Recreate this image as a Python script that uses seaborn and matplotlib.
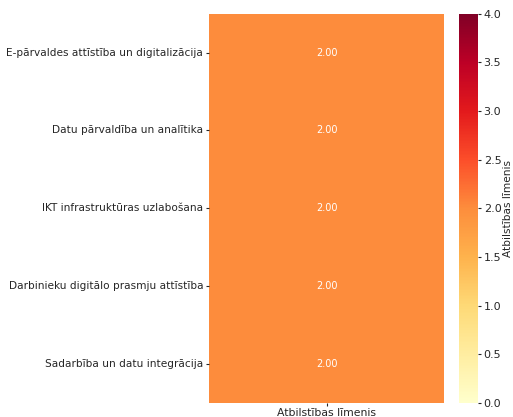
import matplotlib
matplotlib.use("Agg")
import matplotlib.pyplot as plt
import seaborn as sns
import pandas as pd

areas = [
    "E-pārvaldes attīstība un digitalizācija",
    "Datu pārvaldība un analītika",
    "IKT infrastruktūras uzlabošana",
    "Darbinieku digitālo prasmju attīstība",
    "Sadarbība un datu integrācija",
]
scores = [2.0, 2.0, 2.0, 2.0, 2.0]
column_label = "Atbilstības līmenis"

df = pd.DataFrame({column_label: scores}, index=areas)

plt.rcParams["font.family"] = ["DejaVu Sans"]
plt.rcParams["text.color"] = "#262626"
plt.rcParams["axes.labelcolor"] = "#262626"
plt.rcParams["xtick.color"] = "#262626"
plt.rcParams["ytick.color"] = "#262626"

fig = plt.figure(figsize=(5.13, 4.17), dpi=100)
ax = fig.add_axes([0.407, 0.034, 0.459, 0.933])
cax = fig.add_axes([0.895, 0.034, 0.037, 0.933])

sns.heatmap(
    df, ax=ax, cbar_ax=cax, cmap="YlOrRd", vmin=0, vmax=4,
    annot=True, fmt=".2f",
    annot_kws={"fontsize": 7},
    cbar_kws={"label": column_label},
)
ax.tick_params(axis="y", labelsize=7.6, rotation=0, length=2.5, pad=1.5)
ax.tick_params(axis="x", labelsize=7.8, length=2.5, pad=1)
ax.set_ylabel("")
cax.tick_params(labelsize=8, length=2.5, pad=1.5)
cax.set_ylabel(column_label, fontsize=7.6, labelpad=1)
cax.yaxis.set_ticks([0, 0.5, 1.0, 1.5, 2.0, 2.5, 3.0, 3.5, 4.0])

fig.savefig("out.png", dpi=100)
